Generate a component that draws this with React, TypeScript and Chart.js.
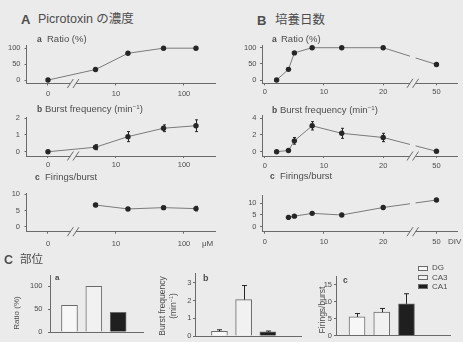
import React, { useEffect, useRef } from "react";
import { Chart, registerables } from "chart.js";

Chart.register(...registerables);

const BG = "#ebebeb";
const TEXT = "#4d4d4d";
const AXIS = "#6a6a6a";
const LINE = "#7a7a7a";
const DOT = "#262626";
const FONT = "'Liberation Sans', Arial, Helvetica, sans-serif";
const CJK = "'Liberation Sans', 'Noto Sans CJK JP', sans-serif";

// ---------------- Data ----------------
// A: Picrotoxin concentration (µM)
const concUM = [0, 5, 15, 50, 150];
const concRatio = [0, 33, 84, 100, 100];
const concBurst = [0, 0.27, 0.9, 1.4, 1.55];
const concBurstErr = [0, 0.15, 0.3, 0.2, 0.35];
const concFirings: (number | null)[] = [null, 6.7, 5.5, 5.9, 5.6];
const concFiringsErr = [0, 0.5, 0.4, 0.4, 0.7];
const concTickValues = [0, 10, 100];
const concTickLabels = ["0", "10", "100"];

// B: days in vitro
const divDays = [2, 4, 5, 8, 13, 20, 50];
const divRatio = [0, 33, 84, 100, 100, 100, 48];
const divBurst = [0, 0.15, 1.3, 3.1, 2.2, 1.7, 0.05];
const divBurstErr = [0, 0.1, 0.4, 0.5, 0.6, 0.5, 0.15];
const divFirings: (number | null)[] = [null, 4.0, 4.5, 5.7, 5.0, 8.2, 11.4];
const divFiringsErr = [0, 0.8, 0.5, 0.5, 0.4, 0.5, 0.6];
const divTickValues = [0, 10, 20, 50];
const divTickLabels = ["0", "10", "20", "50"];

// C: region
const regions = ["DG", "CA3", "CA1"];
const regionRatio = [58, 100, 43];
const regionBurst = [0.27, 2.05, 0.23];
const regionBurstErr = [0.08, 0.8, 0.05];
const regionFirings = [5.5, 6.9, 9.35];
const regionFiringsErr = [1.0, 1.1, 3.0];
const regionFill = ["#f7f7f7", "#f1f1f1", "#1f1f1f"];

// broken-axis mappings
const CONC_BREAK = 0.37; // position of the "//" on the log axis (0 sits at the 1 µM slot)
const concPos = (c: number) => (c === 0 ? 0 : Math.log10(c));
const DIV_BREAK = 25;
const DIV_SHIFT = 21;
const divPos = (d: number) => (d > DIV_BREAK ? d - DIV_SHIFT : d);

type Box = { l: number; t: number; r: number; b: number };

function errorBarPlugin(values: (number | null)[], errs: number[], mode: "both" | "up", cap: number) {
  return {
    id: "errbars",
    afterDatasetsDraw(chart: any) {
      const meta = chart.getDatasetMeta(0);
      const ys = chart.scales.y;
      const ctx = chart.ctx;
      ctx.save();
      ctx.strokeStyle = DOT;
      ctx.lineWidth = 1;
      meta.data.forEach((el: any, i: number) => {
        const v = values[i];
        const e = errs[i];
        if (v == null || !e) return;
        const x = Math.round(el.x) + 0.5;
        const top = ys.getPixelForValue(v + e);
        const bot = mode === "both" ? ys.getPixelForValue(v - e) : ys.getPixelForValue(v);
        ctx.beginPath();
        ctx.moveTo(x, bot);
        ctx.lineTo(x, top);
        if (cap > 0) {
          ctx.moveTo(x - cap, top);
          ctx.lineTo(x + cap, top);
          if (mode === "both") {
            ctx.moveTo(x - cap, bot);
            ctx.lineTo(x + cap, bot);
          }
        }
        ctx.stroke();
      });
      ctx.restore();
    },
  };
}

function axisBreakPlugin(value: number, cutLine: boolean) {
  return {
    id: "axisbreak",
    afterDraw(chart: any) {
      const ctx = chart.ctx;
      const x = chart.scales.x.getPixelForValue(value);
      const { top, bottom } = chart.chartArea;
      const g = 2.8;
      ctx.save();
      ctx.fillStyle = BG;
      if (cutLine) ctx.fillRect(x - g, top - 3, 2 * g, bottom - top + 1);
      ctx.fillRect(x - g, bottom - 2, 2 * g, 4);
      ctx.strokeStyle = AXIS;
      ctx.lineWidth = 1;
      for (const s of [x - g, x + g]) {
        ctx.beginPath();
        ctx.moveTo(s - 3, bottom + 4.5);
        ctx.lineTo(s + 3, bottom - 4.5);
        ctx.stroke();
      }
      ctx.restore();
    },
  };
}

interface LineSpec {
  canvas: Box;
  area: Box;
  xs: number[];
  ys: (number | null)[];
  errs: number[];
  xMin: number;
  xMax: number;
  xTicks: number[];
  xLabels: string[];
  yMin: number;
  yMax: number;
  yTicks: number[];
  xPad: number;
  yPad: number;
  breakAt: number;
  breakLine: boolean;
}

function lineConfig(s: LineSpec) {
  const data = s.xs.map((x, i) => ({ x, y: s.ys[i] }));
  return {
    type: "line",
    data: {
      datasets: [
        {
          data,
          borderColor: LINE,
          borderWidth: 1,
          pointRadius: 2.7,
          pointBackgroundColor: DOT,
          pointBorderColor: DOT,
          pointBorderWidth: 0,
          tension: 0,
          clip: false,
          spanGaps: false,
        },
      ],
    },
    options: {
      responsive: false,
      animation: false,
      events: [],
      layout: { padding: { left: 0, top: s.area.t - s.canvas.t, right: s.canvas.r - s.area.r, bottom: 0 } },
      plugins: { legend: { display: false }, tooltip: { enabled: false } },
      scales: {
        x: {
          type: "linear",
          min: s.xMin,
          max: s.xMax,
          offset: false,
          afterBuildTicks: (sc: any) => {
            sc.ticks = s.xTicks.map((v) => ({ value: v }));
          },
          afterFit: (sc: any) => {
            sc.height = s.canvas.b - s.area.b;
          },
          grid: { drawOnChartArea: false, drawTicks: true, tickLength: 2, color: AXIS, lineWidth: 1 },
          border: { color: AXIS, width: 1 },
          ticks: {
            autoSkip: false,
            maxRotation: 0,
            padding: s.xPad,
            color: TEXT,
            font: { family: FONT, size: 7.5 },
            callback: (v: number) => {
              const i = s.xTicks.findIndex((t) => Math.abs(t - v) < 1e-6);
              return i >= 0 ? s.xLabels[i] : "";
            },
          },
        },
        y: {
          type: "linear",
          min: s.yMin,
          max: s.yMax,
          afterBuildTicks: (sc: any) => {
            sc.ticks = s.yTicks.map((v) => ({ value: v }));
          },
          afterFit: (sc: any) => {
            sc.width = s.area.l - s.canvas.l;
          },
          grid: { drawOnChartArea: false, drawTicks: true, tickLength: 2, color: AXIS, lineWidth: 1 },
          border: { color: AXIS, width: 1 },
          ticks: {
            autoSkip: false,
            padding: s.yPad,
            color: TEXT,
            font: { family: FONT, size: 7.5 },
            callback: (v: number) => String(v),
          },
        },
      },
    },
    plugins: [errorBarPlugin(s.ys, s.errs, "both", 1.5), axisBreakPlugin(s.breakAt, s.breakLine)],
  };
}

interface BarSpec {
  canvas: Box;
  area: Box;
  values: number[];
  errs: number[];
  xMin: number;
  xMax: number;
  yMax: number;
  yTicks: number[];
  yPad: number;
}

function barConfig(s: BarSpec) {
  return {
    type: "bar",
    data: {
      datasets: [
        {
          label: "region",
          data: regions.map((_, i) => ({ x: i + 1, y: s.values[i] })),
          backgroundColor: regionFill,
          borderColor: AXIS,
          borderWidth: 1,
          barThickness: 16,
          borderSkipped: "start",
        },
      ],
    },
    options: {
      responsive: false,
      animation: false,
      events: [],
      layout: { padding: { left: 0, top: s.area.t - s.canvas.t, right: s.canvas.r - s.area.r, bottom: 0 } },
      plugins: { legend: { display: false }, tooltip: { enabled: false } },
      scales: {
        x: {
          type: "linear",
          min: s.xMin,
          max: s.xMax,
          offset: false,
          afterBuildTicks: (sc: any) => {
            sc.ticks = regions.map((_, i) => ({ value: i + 1 }));
          },
          afterFit: (sc: any) => {
            sc.height = s.canvas.b - s.area.b;
          },
          grid: { display: false },
          border: { color: AXIS, width: 1 },
          ticks: { display: false },
        },
        y: {
          type: "linear",
          min: 0,
          max: s.yMax,
          afterBuildTicks: (sc: any) => {
            sc.ticks = s.yTicks.map((v) => ({ value: v }));
          },
          afterFit: (sc: any) => {
            sc.width = s.area.l - s.canvas.l;
          },
          grid: { drawOnChartArea: false, drawTicks: true, tickLength: 2, color: AXIS, lineWidth: 1 },
          border: { color: AXIS, width: 1 },
          ticks: {
            autoSkip: false,
            padding: s.yPad,
            color: TEXT,
            font: { family: FONT, size: 7.5 },
            callback: (v: number) => String(v),
          },
        },
      },
    },
    plugins: [errorBarPlugin(s.values, s.errs, "up", 2.5)],
  };
}

function ChartBox({ canvas, config }: { canvas: Box; config: any }) {
  const ref = useRef<HTMLCanvasElement>(null);
  const w = canvas.r - canvas.l;
  const h = canvas.b - canvas.t;
  useEffect(() => {
    const chart = new Chart(ref.current as HTMLCanvasElement, config);
    return () => chart.destroy();
  }, []);
  return (
    <canvas
      ref={ref}
      width={w}
      height={h}
      style={{ position: "absolute", left: canvas.l, top: canvas.t, width: w, height: h }}
    />
  );
}

function Txt({
  x,
  y,
  size,
  bold,
  family,
  children,
}: {
  x: number;
  y: number;
  size: number;
  bold?: boolean;
  family?: string;
  children: React.ReactNode;
}) {
  return (
    <div
      style={{
        position: "absolute",
        left: x,
        top: y,
        transform: "translateY(-50%)",
        fontSize: size,
        lineHeight: 1,
        fontWeight: bold ? 700 : 400,
        fontFamily: family || FONT,
        color: TEXT,
        whiteSpace: "nowrap",
      }}
    >
      {children}
    </div>
  );
}

function VTxt({ cx, cy, size, children }: { cx: number; cy: number; size: number; children: React.ReactNode }) {
  return (
    <div
      style={{
        position: "absolute",
        left: cx,
        top: cy,
        transform: "translate(-50%, -50%) rotate(-90deg)",
        fontSize: size,
        lineHeight: 1.15,
        fontFamily: FONT,
        color: TEXT,
        whiteSpace: "nowrap",
        textAlign: "center",
      }}
    >
      {children}
    </div>
  );
}

const Inv = () => <sup style={{ fontSize: "0.65em", verticalAlign: "0.5em" }}>−1</sup>;

const concXs = concUM.map(concPos);
const divXs = divDays.map(divPos);
const concTicks = concTickValues.map(concPos);
const divTicks = divTickValues.map(divPos);

const specs: { canvas: Box; config: any }[] = [];
function addLine(s: LineSpec) {
  specs.push({ canvas: s.canvas, config: lineConfig(s) });
}
function addBar(s: BarSpec) {
  specs.push({ canvas: s.canvas, config: barConfig(s) });
}

// Panel A
addLine({
  canvas: { l: 0, t: 37, r: 228, b: 100 },
  area: { l: 26.5, t: 45, r: 215, b: 83.5 },
  xs: concXs, ys: concRatio, errs: [],
  xMin: -0.316, xMax: 2.456, xTicks: concTicks, xLabels: concTickLabels,
  yMin: -10.8, yMax: 108.4, yTicks: [0, 50, 100],
  xPad: 3.5, yPad: 4, breakAt: CONC_BREAK, breakLine: false,
});
addLine({
  canvas: { l: 0, t: 108, r: 228, b: 172 },
  area: { l: 26.5, t: 116.7, r: 215, b: 156 },
  xs: concXs, ys: concBurst, errs: concBurstErr,
  xMin: -0.316, xMax: 2.456, xTicks: concTicks, xLabels: concTickLabels,
  yMin: -0.254, yMax: 2.07, yTicks: [0, 1, 2],
  xPad: 2.5, yPad: 4.5, breakAt: CONC_BREAK, breakLine: false,
});
addLine({
  canvas: { l: 0, t: 184, r: 228, b: 252 },
  area: { l: 26.5, t: 191.7, r: 215, b: 231.7 },
  xs: concXs, ys: concFirings, errs: concFiringsErr,
  xMin: -0.316, xMax: 2.456, xTicks: concTicks, xLabels: concTickLabels,
  yMin: -1.48, yMax: 10.39, yTicks: [0, 5, 10],
  xPad: 5.5, yPad: 4.5, breakAt: CONC_BREAK, breakLine: false,
});
// Panel B
addLine({
  canvas: { l: 232, t: 37, r: 463, b: 100 },
  area: { l: 262, t: 45, r: 457, b: 83.3 },
  xs: divXs, ys: divRatio, errs: [],
  xMin: -0.47, xMax: 32.47, xTicks: divTicks, xLabels: divTickLabels,
  yMin: -10.2, yMax: 108.4, yTicks: [0, 50, 100],
  xPad: 2.5, yPad: 3.5, breakAt: DIV_BREAK, breakLine: true,
});
addLine({
  canvas: { l: 232, t: 107, r: 463, b: 172 },
  area: { l: 262, t: 115, r: 457, b: 156 },
  xs: divXs, ys: divBurst, errs: divBurstErr,
  xMin: -0.47, xMax: 32.47, xTicks: divTicks, xLabels: divTickLabels,
  yMin: -0.516, yMax: 4.394, yTicks: [0, 2, 4],
  xPad: 3, yPad: 3.5, breakAt: DIV_BREAK, breakLine: true,
});
addLine({
  canvas: { l: 232, t: 187, r: 463, b: 252 },
  area: { l: 262, t: 195, r: 457, b: 231.7 },
  xs: divXs, ys: divFirings, errs: divFiringsErr,
  xMin: -0.47, xMax: 32.47, xTicks: divTicks, xLabels: divTickLabels,
  yMin: -2.14, yMax: 13.55, yTicks: [0, 5, 10],
  xPad: 3.5, yPad: 3.5, breakAt: DIV_BREAK, breakLine: true,
});
// Panel C
addBar({
  canvas: { l: 0, t: 265, r: 150, b: 342 },
  area: { l: 50, t: 273, r: 143, b: 339.3 },
  values: regionRatio, errs: [0, 0, 0],
  xMin: 0.2, xMax: 4.02, yMax: 124.5, yTicks: [0, 50, 100], yPad: 5.5,
});
addBar({
  canvas: { l: 150, t: 265, r: 305, b: 342 },
  area: { l: 195, t: 273.3, r: 301, b: 339.3 },
  values: regionBurst, errs: regionBurstErr,
  xMin: -0.01, xMax: 4.37, yMax: 3.54, yTicks: [0, 1, 2, 3], yPad: 1.5,
});
addBar({
  canvas: { l: 300, t: 265, r: 463, b: 342 },
  area: { l: 336, t: 276.7, r: 450, b: 341.5 },
  values: regionFirings, errs: regionFiringsErr,
  xMin: 0.15, xMax: 4.76, yMax: 17.4, yTicks: [0, 5, 10, 15], yPad: 2,
});

const legendRows = [265.7, 275, 284.3];

export default function App() {
  return (
    <div
      style={{
        position: "absolute",
        left: 0,
        top: 0,
        width: 463,
        height: 342,
        background: BG,
        overflow: "hidden",
        fontFamily: FONT,
      }}
    >
      {specs.map((s, i) => (
        <ChartBox key={i} canvas={s.canvas} config={s.config} />
      ))}

      {/* Panel titles */}
      <Txt x={21} y={18.5} size={13} bold>A</Txt>
      <Txt x={38} y={18.5} size={12.5} family={CJK}>Picrotoxin の濃度</Txt>
      <Txt x={257} y={20} size={13} bold>B</Txt>
      <Txt x={275} y={20} size={12.5} family={CJK}>培養日数</Txt>
      <Txt x={4} y={259.5} size={12.5} bold>C</Txt>
      <Txt x={20} y={259.5} size={11.5} family={CJK}>部位</Txt>

      {/* Sub-panel titles A */}
      <Txt x={37} y={38.5} size={8.5} bold>a</Txt>
      <Txt x={47} y={38.5} size={9.5}>Ratio (%)</Txt>
      <Txt x={37} y={108.5} size={8.5} bold>b</Txt>
      <Txt x={45} y={108.5} size={9.5}>Burst frequency (min<Inv />)</Txt>
      <Txt x={35} y={177} size={8.5} bold>c</Txt>
      <Txt x={45} y={177} size={9.5}>Firings/burst</Txt>

      {/* Sub-panel titles B */}
      <Txt x={272} y={38.5} size={8.5} bold>a</Txt>
      <Txt x={281} y={38.5} size={9.5}>Ratio (%)</Txt>
      <Txt x={272} y={110} size={8.5} bold>b</Txt>
      <Txt x={280} y={110} size={9.5}>Burst frequency (min<Inv />)</Txt>
      <Txt x={270} y={175.5} size={8.5} bold>c</Txt>
      <Txt x={280} y={175.5} size={9.5}>Firings/burst</Txt>

      {/* axis units */}
      <Txt x={202} y={244} size={8}>μM</Txt>
      <Txt x={448} y={241.5} size={8}>DIV</Txt>

      {/* Panel C labels */}
      <Txt x={55} y={278} size={8} bold>a</Txt>
      <Txt x={203} y={278} size={9} bold>b</Txt>
      <Txt x={343} y={280} size={8.5} bold>c</Txt>
      <VTxt cx={16.5} cy={312.5} size={8}>Ratio (%)</VTxt>
      <VTxt cx={168} cy={306} size={8.5}>
        Burst frequency
        <br />
        (min<Inv />)
      </VTxt>
      <VTxt cx={323} cy={310} size={8.5}>Firings/burst</VTxt>

      {/* Legend */}
      {regions.map((r, i) => (
        <React.Fragment key={r}>
          <div
            style={{
              position: "absolute",
              left: 418,
              top: legendRows[i],
              width: 10,
              height: 5,
              boxSizing: "border-box",
              border: `1px solid ${AXIS}`,
              background: regionFill[i],
            }}
          />
          <Txt x={432} y={legendRows[i] + 2.5} size={8}>{r}</Txt>
        </React.Fragment>
      ))}
    </div>
  );
}
